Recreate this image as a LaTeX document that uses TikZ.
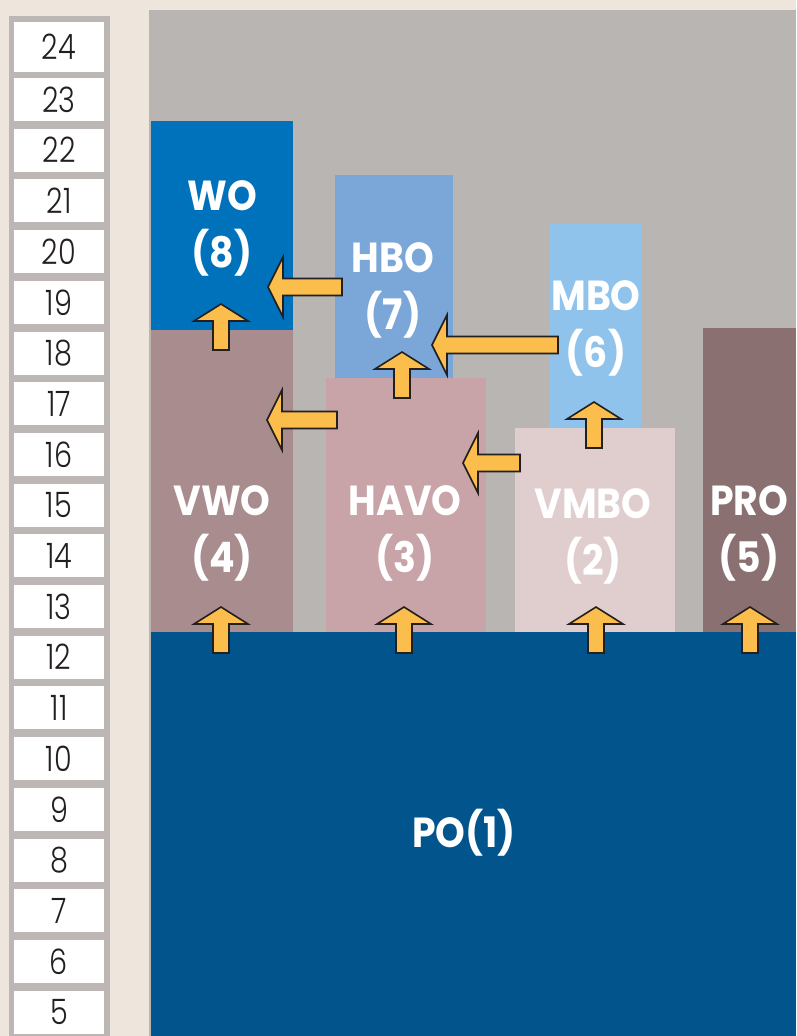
\documentclass[tikz,border=0pt]{standalone}
\usepackage{fontspec}
\setmainfont{Poppins}
\newfontfamily\numfont{Poppins Light}[FakeStretch=0.82]
\newfontfamily\lblfont{Poppins}[FakeStretch=0.9]
\definecolor{bgbeige}{HTML}{EEE5DD}
\definecolor{framegray}{HTML}{BCB7B4}
\definecolor{maingray}{HTML}{B9B5B2}
\definecolor{cwo}{HTML}{0071BB}
\definecolor{cvwo}{HTML}{A98C8E}
\definecolor{chbo}{HTML}{7BA7D8}
\definecolor{chavo}{HTML}{C8A3A7}
\definecolor{cmbo}{HTML}{8FC3EB}
\definecolor{cvmbo}{HTML}{E0CDCE}
\definecolor{cpro}{HTML}{8A7071}
\definecolor{cpo}{HTML}{02548C}
\definecolor{arrfill}{HTML}{FBBD4B}
\definecolor{arrline}{HTML}{231F20}
\definecolor{numtext}{HTML}{231F20}
\tikzset{
  numbox/.style={fill=white, inner sep=0pt, minimum width=90pt, text=numtext, font=\numfont\fontsize{35}{35}\selectfont},
  region/.style={anchor=north west, inner sep=0pt, draw=none},
  lbl/.style={text=white, align=center, inner sep=0pt, font=\lblfont\bfseries\fontsize{42}{57}\selectfont},
  arrowstyle/.style={fill=arrfill, draw=arrline, line width=1.6pt, line join=miter}
}
\newcommand{\uparr}[2]{\draw[arrowstyle] (#1,#2) -- ++(27,17) -- ++(-19,0) -- ++(0,29) -- ++(-16,0) -- ++(0,-29) -- ++(-19,0) -- cycle;}
\newcommand{\leftarr}[3]{\draw[arrowstyle] (#1,#2) -- ++(15,-30) -- ++(0,21.5) -- (#3,#2-8.5) -- (#3,#2+8.5) -- (#1+15,#2+8.5) -- (#1+15,#2+30) -- cycle;}
\begin{document}
\begin{tikzpicture}[x=1pt,y=-1pt]
\useasboundingbox (0,0) rectangle (796,1036);
\fill[bgbeige] (0,0) rectangle (796,1036);
% number column
\fill[framegray] (9,16) rectangle (110,1036);
\node[numbox, minimum height=50pt] (n24) at (59,47) {24};
\foreach \k in {23,...,5} {
  \pgfmathsetmacro{\t}{78+(23-\k)*50.7+21.5}
  \node[numbox, minimum height=43pt] (n\k) at (59,\t) {\k};
}
% main area
\fill[maingray] (149,10) rectangle (796,1036);
% regions
\node[region, fill=cwo,   minimum width=142pt, minimum height=209pt] (wo)   at (151,121) {};
\node[region, fill=cvwo,  minimum width=142pt, minimum height=302pt] (vwo)  at (151,330) {};
\node[region, fill=chbo,  minimum width=118pt, minimum height=203pt] (hbo)  at (335,175) {};
\node[region, fill=chavo, minimum width=160pt, minimum height=254pt] (havo) at (326,378) {};
\node[region, fill=cmbo,  minimum width=92pt,  minimum height=204pt] (mbo)  at (549,224) {};
\node[region, fill=cvmbo, minimum width=160pt, minimum height=204pt] (vmbo) at (515,428) {};
\node[region, fill=cpro,  minimum width=93pt,  minimum height=304pt] (pro)  at (703,328) {};
\node[region, fill=cpo,   minimum width=645pt, minimum height=404pt] (po)   at (151,632) {};
% labels
\node[lbl] (lwo)   at (222,228) {WO\\(8)};
\node[lbl] (lhbo)  at (393,290) {HBO\\(7)};
\node[lbl] (lmbo)  at (596,328) {MBO\\(6)};
\node[lbl] (lvwo)  at (222,533) {VWO\\(4)};
\node[lbl] (lhavo) at (405,533) {HAVO\\(3)};
\node[lbl] (lvmbo) at (593,536) {VMBO\\(2)};
\node[lbl] (lpro)  at (749,533) {PRO\\(5)};
\node[lbl] (lpo)   at (464,833) {PO(1)};
% up arrows
\uparr{221}{607}
\uparr{404}{607}
\uparr{596}{607}
\uparr{750}{607}
\uparr{221}{304}
\uparr{402}{352}
\uparr{594}{402}
% left arrows
\leftarr{268}{287}{342}
\leftarr{432}{345}{558}
\leftarr{267}{420}{337}
\leftarr{463}{463}{520}
\end{tikzpicture}
\end{document}
